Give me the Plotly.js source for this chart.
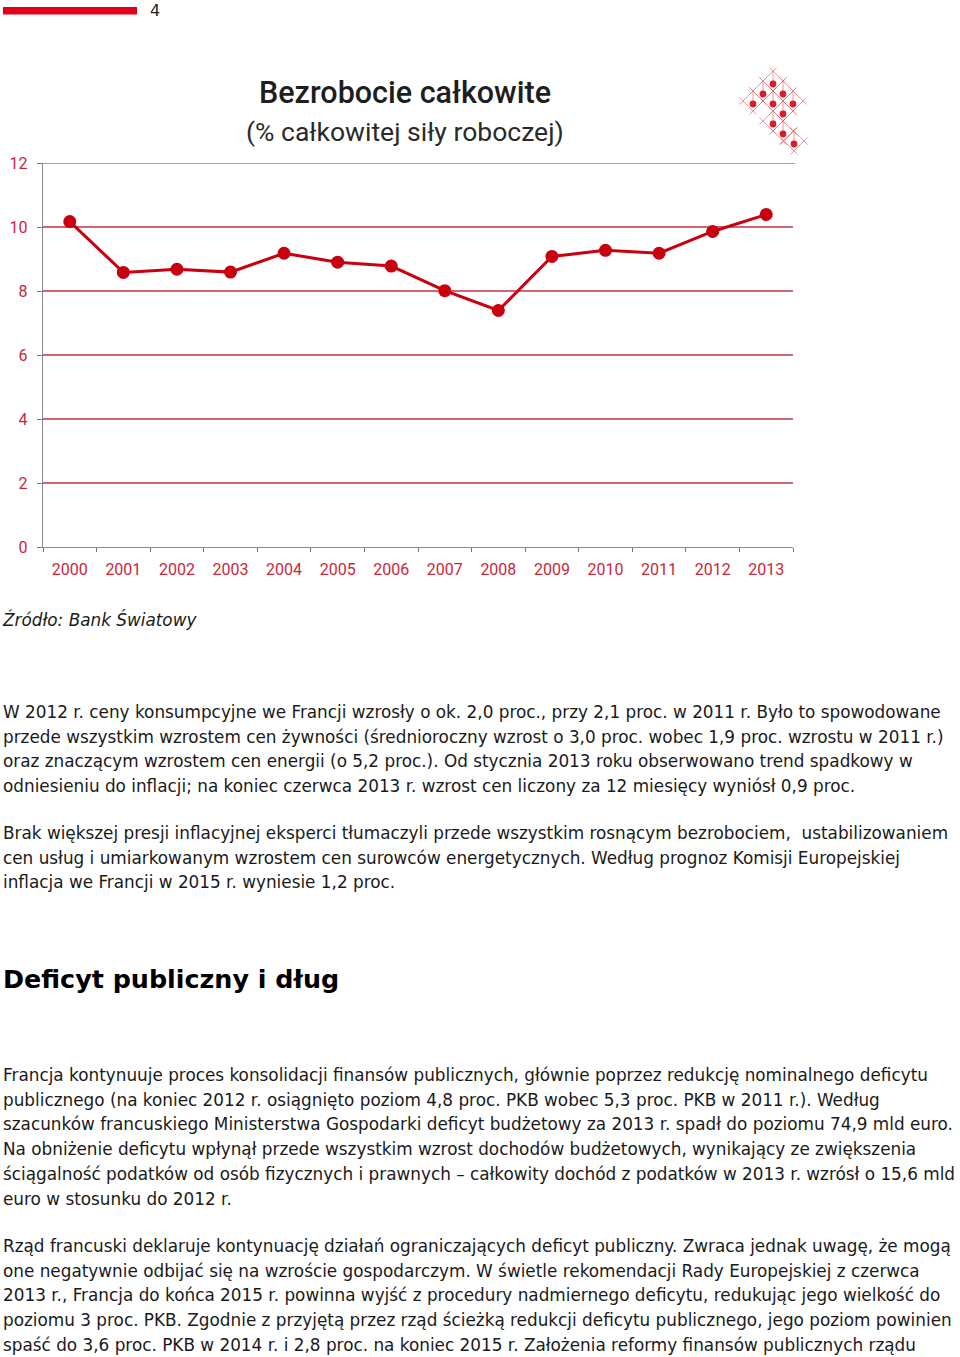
<!DOCTYPE html>
<html>
<head>
<meta charset="utf-8">
<script src="https://cdn.plot.ly/plotly-3.0.1.min.js"></script>
<style>
  html, body { margin: 0; padding: 0; background: #fff; }
  body { width: 960px; height: 1357px; position: relative; overflow: hidden; }
  #chart { position: absolute; left: 0; top: 0; width: 960px; height: 600px; }
  .txt { position: absolute; left: 3px; font-family: "DejaVu Sans", sans-serif; font-size: 16.85px;
         line-height: 24.7px; color: #1a1a1a; white-space: nowrap; }
  .src { font-style: italic; }
  .h2 { font-weight: bold; font-size: 25.4px; line-height: 30px; color: #000; }
  .pg { position: absolute; left: 150px; top: 0.5px; font-family: "DejaVu Sans", sans-serif; font-size: 16px;
        line-height: normal; color: #222; }
</style>
</head>
<body>
<div id="chart"></div>
<div class="pg" id="pg"></div>

<div class="txt src" style="top:608px;">Źródło: Bank Światowy</div>

<div class="txt" style="top:700px;">W 2012 r. ceny konsumpcyjne we Francji wzrosły o ok. 2,0 proc., przy 2,1 proc. w 2011 r. Było to spowodowane<br>przede wszystkim wzrostem cen żywności (średnioroczny wzrost o 3,0 proc. wobec 1,9 proc. wzrostu w 2011 r.)<br>oraz znaczącym wzrostem cen energii (o 5,2 proc.). Od stycznia 2013 roku obserwowano trend spadkowy w<br>odniesieniu do inflacji; na koniec czerwca 2013 r. wzrost cen liczony za 12 miesięcy wyniósł 0,9 proc.</div>

<div class="txt" style="top:821px;">Brak większej presji inflacyjnej eksperci tłumaczyli przede wszystkim rosnącym bezrobociem,&nbsp; ustabilizowaniem<br>cen usług i umiarkowanym wzrostem cen surowców energetycznych. Według prognoz Komisji Europejskiej<br>inflacja we Francji w 2015 r. wyniesie 1,2 proc.</div>

<div class="txt h2" style="top:964px;">Deficyt publiczny i dług</div>

<div class="txt" style="top:1063px;">Francja kontynuuje proces konsolidacji finansów publicznych, głównie poprzez redukcję nominalnego deficytu<br>publicznego (na koniec 2012 r. osiągnięto poziom 4,8 proc. PKB wobec 5,3 proc. PKB w 2011 r.). Według<br>szacunków francuskiego Ministerstwa Gospodarki deficyt budżetowy za 2013 r. spadł do poziomu 74,9 mld euro.<br>Na obniżenie deficytu wpłynął przede wszystkim wzrost dochodów budżetowych, wynikający ze zwiększenia<br>ściągalność podatków od osób fizycznych i prawnych – całkowity dochód z podatków w 2013 r. wzrósł o 15,6 mld<br>euro w stosunku do 2012 r.</div>

<div class="txt" style="top:1234px;">Rząd francuski deklaruje kontynuację działań ograniczających deficyt publiczny. Zwraca jednak uwagę, że mogą<br>one negatywnie odbijać się na wzroście gospodarczym. W świetle rekomendacji Rady Europejskiej z czerwca<br>2013 r., Francja do końca 2015 r. powinna wyjść z procedury nadmiernego deficytu, redukując jego wielkość do<br>poziomu 3 proc. PKB. Zgodnie z przyjętą przez rząd ścieżką redukcji deficytu publicznego, jego poziom powinien<br>spaść do 3,6 proc. PKB w 2014 r. i 2,8 proc. na koniec 2015 r. Założenia reformy finansów publicznych rządu</div>

<script>
// ---- data ----
const years = ['2000','2001','2002','2003','2004','2005','2006','2007','2008','2009','2010','2011','2012','2013'];
const unemployment = [10.17, 8.58, 8.68, 8.59, 9.18, 8.90, 8.78, 8.01, 7.39, 9.08, 9.27, 9.18, 9.86, 10.39];
const yTicks = [0, 2, 4, 6, 8, 10, 12];
const chartTitle = 'Bezrobocie całkowite';
const chartSubtitle = '(% całkowitej siły roboczej)';
const pageNumber = '4';

document.getElementById('pg').textContent = pageNumber;

// ---- layout helpers (pixel -> paper) ----
const L = 43, R = 793, T = 163, B = 547;
const X = px => (px - L) / (R - L);
const Y = py => (B - py) / (B - T);

const red = '#c8000f';
const tickRed = '#c9283a';
const gridRed = '#d06673';

// decorative logo (diamond lattice with dots)
const logoDots = [[773,84],[763,94],[783,94],[753,104],[773,104],[793,104],[783,114],[773,124],[783,134],[794,144]];
const shapes = [];
const logoLine = 'rgba(228,110,118,0.7)';
logoDots.forEach(([cx, cy]) => {
  const c = cy - 3, h = 10, e = 5;
  const verts = [[cx, c - h], [cx + h, c], [cx, c + h], [cx - h, c]];
  for (let i = 0; i < 4; i++) {
    const a = verts[i], b = verts[(i + 1) % 4];
    const dx = (b[0] - a[0]) / 14.14 * e, dy = (b[1] - a[1]) / 14.14 * e;
    shapes.push({type:'line', xref:'paper', yref:'paper',
      x0: X(a[0] - dx), y0: Y(a[1] - dy), x1: X(b[0] + dx), y1: Y(b[1] + dy),
      line:{color: logoLine, width: 1}});
  }
  shapes.push({type:'line', xref:'paper', yref:'paper',
    x0: X(cx), y0: Y(c - h), x1: X(cx), y1: Y(cy), line:{color: logoLine, width: 1}});
  shapes.push({type:'circle', xref:'paper', yref:'paper',
    x0: X(cx - 3.4), x1: X(cx + 3.4), y0: Y(cy + 3.4), y1: Y(cy - 3.4),
    fillcolor:'#d81e2c', line:{width:0}});
});
// red bar at page top
shapes.push({type:'rect', xref:'paper', yref:'paper',
  x0: X(3), x1: X(137), y0: Y(14.5), y1: Y(7), fillcolor:'#e2001a', line:{width:0}});
// top gridline (at the highest tick) drawn explicitly
shapes.push({type:'line', xref:'paper', yref:'y', x0: 0, x1: X(795), y0: yTicks[yTicks.length - 1], y1: yTicks[yTicks.length - 1],
  line:{color: gridRed, width: 1.3}, layer: 'below'});

const trace = {
  x: years, y: unemployment, type: 'scatter', mode: 'lines+markers',
  line: {color: red, width: 3},
  marker: {color: red, size: 13},
  hoverinfo: 'x+y', cliponaxis: false
};

const layout = {
  width: 960, height: 600,
  margin: {l: L, r: 960 - R, t: T, b: 600 - B},
  paper_bgcolor: '#fff', plot_bgcolor: '#fff',
  showlegend: false,
  font: {family: 'Roboto, sans-serif'},
  xaxis: {
    type: 'category', range: [-0.5, 13.5], tickson: 'boundaries',
    ticks: 'outside', ticklen: 4, tickcolor: '#777', tickwidth: 1,
    showline: true, linecolor: '#8a8a8a', linewidth: 1.2,
    showgrid: false, zeroline: false,
    tickfont: {family: 'Roboto, sans-serif', size: 16, color: tickRed},
    ticklabelstandoff: 8, fixedrange: true
  },
  yaxis: {
    range: [0, 12], tickmode: 'array', tickvals: yTicks, ticktext: yTicks.map(String),
    ticks: 'outside', ticklen: 5, tickcolor: '#777', tickwidth: 1,
    showline: true, linecolor: '#8a8a8a', linewidth: 1.2,
    showgrid: true, gridcolor: gridRed, gridwidth: 1.3, zeroline: false,
    tickfont: {family: 'Roboto, sans-serif', size: 16, color: tickRed},
    ticklabelstandoff: 6, fixedrange: true
  },
  shapes: shapes,
  annotations: [
    {text: chartTitle, xref:'paper', yref:'paper', x: X(405), y: Y(93), xanchor:'center', yanchor:'middle',
     showarrow:false, font:{family:'Roboto, sans-serif', size: 30.5, weight: 500, color:'#1e1e1e'}},
    {text: chartSubtitle, xref:'paper', yref:'paper', x: X(405), y: Y(131), xanchor:'center', yanchor:'middle',
     showarrow:false, font:{family:'Roboto, sans-serif', size: 26.5, color:'#2a2a2a'}}
  ]
};

Plotly.newPlot('chart', [trace], layout, {displayModeBar: false, staticPlot: true});
</script>
</body>
</html>
